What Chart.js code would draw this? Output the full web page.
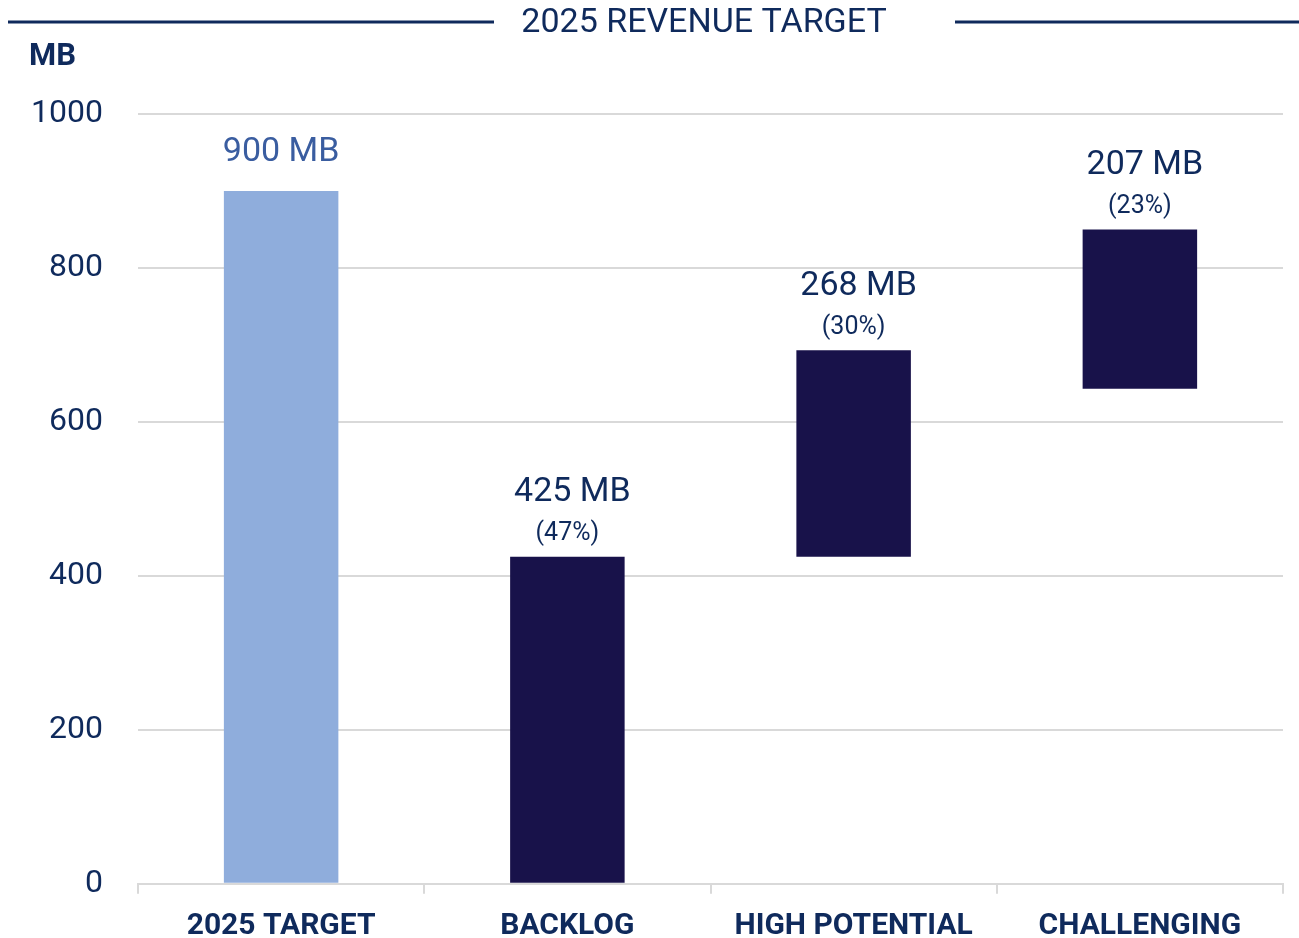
<!DOCTYPE html>
<html>
<head>
<meta charset="utf-8">
<script src="https://cdn.jsdelivr.net/npm/chart.js@4/dist/chart.umd.min.js"></script>
<style>
  body { margin: 0; background: #fff; }
  #wrap { width: 1299px; height: 938px; }
</style>
</head>
<body>
<div id="wrap"><canvas id="chart" width="1299" height="938"></canvas></div>
<script>
// chart data
const categories = ['2025 TARGET', 'BACKLOG', 'HIGH POTENTIAL', 'CHALLENGING'];
const barStart = [0, 0, 425, 643];
const barEnd = [900, 425, 693, 850];
const valueLabels = ['900 MB', '425 MB', '268 MB', '207 MB'];
const shareLabels = ['', '(47%)', '(30%)', '(23%)'];
const barColors = ['#8FADDC', '#18124A', '#18124A', '#18124A'];

const navy = '#0F2A5C';
const fontMain = 'Roboto, "Liberation Sans", sans-serif';
const fontNarrow = '"Liberation Sans Narrow", Roboto, sans-serif';

// title, side lines, unit label and bar value labels
const decorations = {
	id: 'decorations',
	afterDraw(chart) {
		const ctx = chart.ctx;
		ctx.save();
		// title with lines
		ctx.strokeStyle = navy;
		ctx.lineWidth = 3;
		ctx.beginPath();
		ctx.moveTo(8, 22); ctx.lineTo(494, 22);
		ctx.moveTo(955, 22); ctx.lineTo(1299, 22);
		ctx.stroke();
		ctx.fillStyle = navy;
		ctx.font = '34px ' + fontMain;
		ctx.textAlign = 'center';
		ctx.textBaseline = 'middle';
		ctx.fillText('2025 REVENUE TARGET', 704, 23);
		// unit
		ctx.font = 'bold 31px ' + fontMain;
		ctx.textAlign = 'left';
		ctx.fillText('MB', 29, 57);
		// value labels
		const bars = chart.getDatasetMeta(0).data;
		bars.forEach((bar, i) => {
			ctx.textAlign = 'center';
			if (shareLabels[i]) {
				ctx.fillStyle = navy;
				ctx.font = '34px ' + fontMain;
				ctx.fillText(valueLabels[i], bar.x + 5, bar.y - 64);
				ctx.font = '25px ' + fontMain;
				ctx.fillText(shareLabels[i], bar.x, bar.y - 23);
			} else {
				ctx.fillStyle = '#3A5DA0';
				ctx.font = '34px ' + fontMain;
				ctx.fillText(valueLabels[i], bar.x, bar.y - 38);
			}
		});
		ctx.restore();
	}
};

const ctx = document.getElementById('chart').getContext('2d');
const chart = new Chart(ctx, {
	type: 'bar',
	data: {
		labels: categories,
		datasets: [{
			data: barStart.map((s, i) => [s, barEnd[i]]),
			backgroundColor: barColors,
			borderWidth: 0,
			barPercentage: 0.4,
			categoryPercentage: 1
		}]
	},
	options: {
		responsive: false,
		animation: false,
		layout: { padding: { top: 114, right: 16, bottom: 0, left: 0 } },
		plugins: {
			legend: { display: false },
			tooltip: { enabled: false }
		},
		scales: {
			x: {
				afterFit: (s) => { s.height = 52; },
				border: { color: '#D9D9D9', width: 2 },
				grid: { offset: true, drawOnChartArea: false, tickLength: 10, color: '#D9D9D9', lineWidth: 2 },
				ticks: {
					color: navy,
					padding: 15,
					maxRotation: 0,
					font: { family: fontNarrow, size: 30, weight: 'bold' }
				}
			},
			y: {
				min: 0,
				max: 1000,
				afterFit: (s) => { s.width = 138; },
				border: { display: false },
				grid: { color: '#D9D9D9', lineWidth: 2, drawTicks: false },
				ticks: {
					stepSize: 200,
					color: navy,
					padding: 35,
					font: { family: fontMain, size: 32 },
					callback: (v) => String(v)
				}
			}
		}
	},
	plugins: [decorations]
});
</script>
</body>
</html>
